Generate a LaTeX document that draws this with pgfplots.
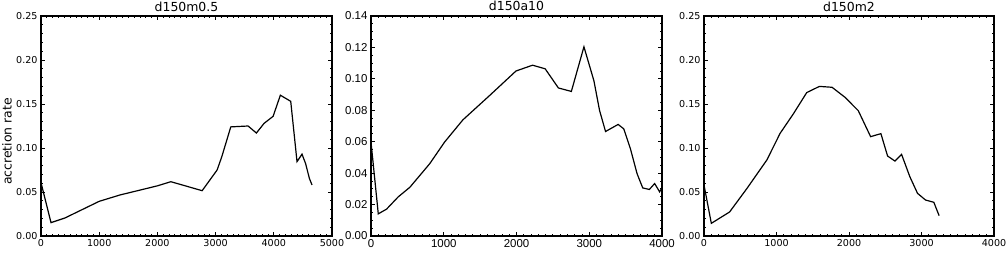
\documentclass[border=0pt]{standalone}
\usepackage{fontspec}
\setmainfont{DejaVu Sans}
\newfontfamily\helv{Liberation Sans}
\usepackage{pgfplots}
\pgfplotsset{compat=1.18}

\pgfplotsset{
  panel/.style={
    scale only axis, width=291bp, height=220bp, anchor=south west,
    axis line style={line width=1.2bp},
    major tick length=4bp, minor tick length=2bp,
    every tick/.style={black, line width=0.8bp},
    /pgf/number format/assume math mode=true,
    /pgf/number format/1000 sep={},
    scaled ticks=false,
    tick label style={font=\fontsize{9.6}{10}\selectfont},
    every axis title shift=0pt,
    title style={at={(0.5,1)}, anchor=base, yshift=5bp, inner sep=0pt,
      font=\fontsize{12.5}{13}\selectfont},
    xmin=0, ymin=0, minor x tick num=9,
    yticklabel style={/pgf/number format/fixed, /pgf/number format/fixed zerofill,
      /pgf/number format/precision=2},
  },
  curve/.style={black, line width=1.2bp, mark=none},
}

\begin{document}
\begin{tikzpicture}
\useasboundingbox (0,0) rectangle (1008bp,260bp);

\begin{axis}[panel, at={(41bp,24bp)}, title={d150m0.5},
  xmax=5000, ymax=0.25, xtick={0,1000,...,5000}, ytick={0,0.05,...,0.25},
  minor y tick num=4,
  ylabel={accretion rate},
  ylabel style={at={(axis description cs:-0.117,0.43)}, anchor=center, rotate=0,
    font=\fontsize{12.5}{13}\selectfont},
]
\addplot[curve] coordinates {
(0,0.0606)(172,0.0152)(412,0.0205)(1000,0.0394)(1356,0.0466)(2000,0.0570)
(2231,0.0617)(2769,0.0515)(3026,0.0750)(3106,0.0900)(3261,0.1240)(3558,0.1250)
(3701,0.1170)(3833,0.1280)(3988,0.1360)(4113,0.1600)(4291,0.1530)(4399,0.0845)
(4485,0.0930)(4548,0.0820)(4611,0.0655)(4657,0.0580)};
\end{axis}

\begin{axis}[panel, at={(371bp,24bp)}, title={d150a10},
  xmax=4000, ymax=0.14, xtick={0,1000,...,4000}, ytick={0,0.02,...,0.14},
  minor y tick num=3,
  tick label style={font=\helv\fontsize{11.5}{12}\selectfont},
]
\addplot[curve] coordinates {
(0,0.0598)(100,0.0141)(214,0.0171)(374,0.0249)(534,0.0310)(807,0.0460)
(1012,0.0598)(1263,0.0739)(1628,0.0893)(1993,0.1050)(2221,0.1087)(2394,0.1064)
(2576,0.0942)(2754,0.0920)(2927,0.1204)(3064,0.0988)(3142,0.0798)(3224,0.0665)
(3397,0.0710)(3474,0.0682)(3566,0.0555)(3657,0.0397)(3735,0.0306)(3826,0.0296)
(3899,0.0334)(3967,0.0281)(4040,0.0340)};
\end{axis}

\begin{axis}[panel, at={(704bp,24bp)}, width=290bp, title={d150m2},
  xmax=4000, ymax=0.25, xtick={0,1000,...,4000}, ytick={0,0.05,...,0.25},
  minor y tick num=4,
]
\addplot[curve] coordinates {
(0,0.0580)(101,0.0144)(353,0.0273)(592,0.0540)(867,0.0864)(1050,0.1167)
(1234,0.1390)(1417,0.1630)(1592,0.1700)(1766,0.1690)(1945,0.1576)(2128,0.1424)
(2298,0.1129)(2440,0.1163)(2532,0.0909)(2633,0.0852)(2725,0.0928)(2839,0.0674)
(2945,0.0485)(3055,0.0409)(3170,0.0383)(3243,0.0231)};
\end{axis}
\end{tikzpicture}
\end{document}
